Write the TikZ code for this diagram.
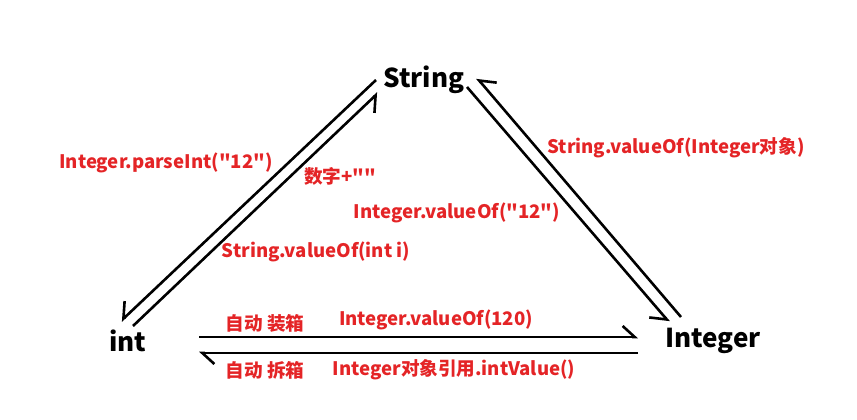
\documentclass[tikz,border=0pt]{standalone}
\usepackage{fontspec}
\newfontfamily\yh{Noto Sans CJK SC}
\usepackage{xcolor}
\usepackage{tikz}
\usetikzlibrary{arrows.meta,calc}

\definecolor{lblred}{RGB}{228,36,38}

\begin{document}
\begin{tikzpicture}[
  x=1pt, y=-1pt,
  cls/.style={font=\yh\fontsize{26}{28}\selectfont\bfseries, inner sep=0pt},
  lbl/.style={font=\yh\fontsize{18.6}{20}\selectfont\bfseries, text=lblred, inner sep=0pt},
  arr/.style={line width=2.6pt, -{Straight Barb[right, length=13pt, width=24pt]}},
  arl/.style={line width=2.6pt, -{Straight Barb[left, length=12pt, width=22pt]}}
]
\useasboundingbox (0,0) rectangle (857,420);
\node[cls] (s) at (424,80) {String};
\node[cls] (i) at (128,341) {int};
\node[cls] (g) at (713,341) {Integer};
% String <-> int
\draw[arr] ($(s)+(-48,0)$) -- ($(i)+(-7,-20)$);
\draw[arr] ($(i)+(5,-15)$) -- ($(s)+(-46,13)$);
% String <-> Integer
\draw[arr] ($(s)+(43,7)$) -- ($(g)+(-44,-19)$);
\draw[arr] ($(g)+(-32,-24)$) -- ($(s)+(53,-2)$);
% int <-> Integer
\draw[arl] ($(i)+(71,-4)$) -- ($(g)+(-75,-4)$);
\draw[arl] ($(g)+(-75,12)$) -- ($(i)+(71,12)$);
\node[lbl] (p1) at (166,163) {Integer.parseInt("12")};
\node[lbl] (p2) at (340,176) {数字+""};
\node[lbl] (p3) at (457,213) {Integer.valueOf("12")};
\node[lbl] (p4) at (316,252) {String.valueOf(int i)};
\node[lbl] (p5) at (676,148) {String.valueOf(Integer对象)};
\node[lbl] (b1) at (265,323) {自动 装箱};
\node[lbl] (b2) at (436,320) {Integer.valueOf(120)};
\node[lbl] (u1) at (265,370) {自动 拆箱};
\node[lbl] (u2) at (454,370) {Integer对象引用.intValue()};
\end{tikzpicture}
\end{document}
